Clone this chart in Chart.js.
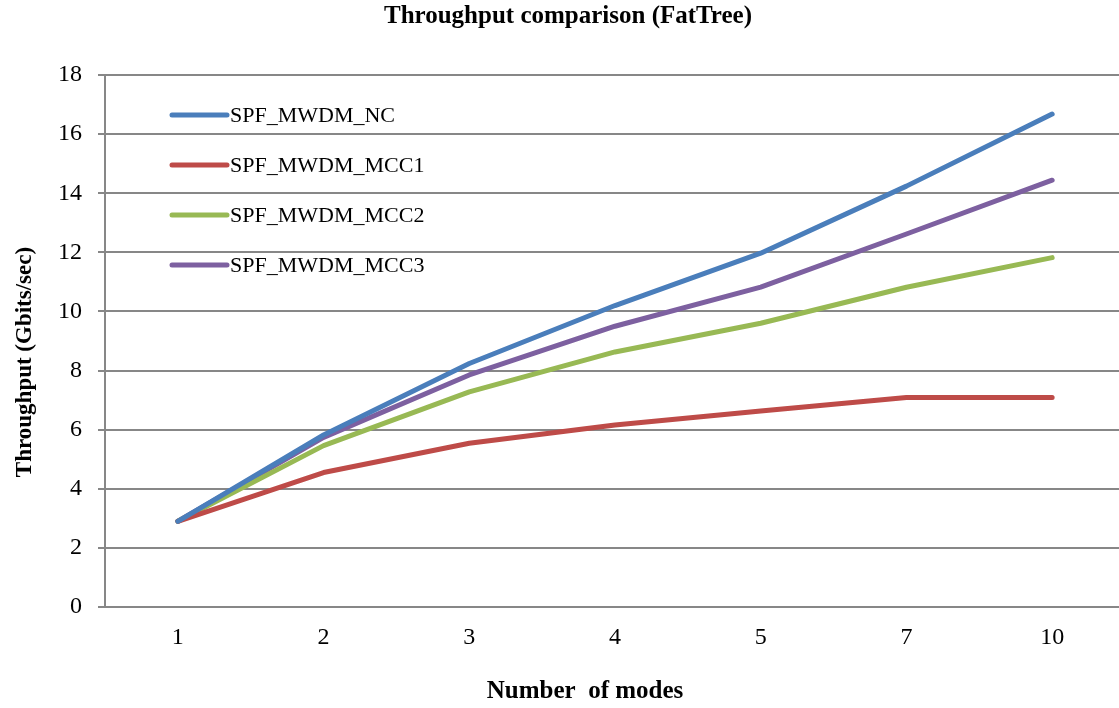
<!DOCTYPE html>
<html>
<head>
<meta charset="utf-8">
<script src="https://cdn.jsdelivr.net/npm/chart.js@4/dist/chart.umd.min.js"></script>
<style>
  html, body { margin: 0; padding: 0; background: #ffffff; overflow: hidden; }
  #wrap { width: 1119px; height: 708px; position: relative; overflow: hidden; }
  #c { display: block; }
</style>
</head>
<body>
<div id="wrap"><canvas id="c" width="1126" height="708"></canvas></div>
<script>
const chartTitle = 'Throughput comparison (FatTree)';
const xTitle = 'Number  of modes';
const yTitle = 'Throughput (Gbits/sec)';

const categories = ['1', '2', '3', '4', '5', '7', '10'];
const seriesNames = ['SPF_MWDM_NC', 'SPF_MWDM_MCC1', 'SPF_MWDM_MCC2', 'SPF_MWDM_MCC3'];
const seriesColors = ['#4a7ebb', '#be4b48', '#98b954', '#7d60a0'];
const nc   = [2.9, 5.82, 8.24, 10.2, 11.97, 14.24, 16.68];
const mcc1 = [2.9, 4.55, 5.54, 6.16, 6.63, 7.09, 7.09];
const mcc2 = [2.9, 5.46, 7.28, 8.63, 9.6, 10.82, 11.82];
const mcc3 = [2.9, 5.74, 7.85, 9.5, 10.82, 12.62, 14.44];
const yMin = 0, yMax = 18, yStep = 2;

const seriesValues = [nc, mcc1, mcc2, mcc3];
const SERIF = '"Liberation Serif", "Times New Roman", serif';

const datasets = seriesValues.map((vals, i) => ({
  label: seriesNames[i],
  data: vals,
  borderColor: seriesColors[i],
  backgroundColor: seriesColors[i],
  borderWidth: 5,
  pointRadius: 0,
  pointHoverRadius: 0,
  tension: 0,
  fill: false,
  borderCapStyle: 'round',
  borderJoinStyle: 'round'
}));

const textPlugin = {
  id: 'textPlugin',
  afterDraw(chart) {
    const ctx = chart.ctx;
    const area = chart.chartArea;
    ctx.save();
    ctx.fillStyle = '#000000';
    ctx.textAlign = 'center';
    ctx.textBaseline = 'middle';
    ctx.font = 'bold 25px ' + SERIF;
    ctx.fillText(chartTitle, 568, 17);
    ctx.fillText(xTitle, 585, 692);
    ctx.font = 'bold 23px ' + SERIF;
    ctx.translate(25, 362);
    ctx.rotate(-Math.PI / 2);
    ctx.fillText(yTitle, 0, 0);
    ctx.restore();

    // legend inside plot area
    ctx.save();
    ctx.font = '22px ' + SERIF;
    ctx.textAlign = 'left';
    ctx.textBaseline = 'middle';
    chart.data.datasets.forEach((ds, i) => {
      const y = area.top + 40 + i * 50;
      const x0 = area.left + 67;
      ctx.strokeStyle = ds.borderColor;
      ctx.lineWidth = 5;
      ctx.lineCap = 'round';
      ctx.beginPath();
      ctx.moveTo(x0, y);
      ctx.lineTo(x0 + 55, y);
      ctx.stroke();
      ctx.fillStyle = '#000000';
      ctx.fillText(ds.label, x0 + 58, y + 1);
    });
    ctx.restore();
  }
};

new Chart(document.getElementById('c'), {
  type: 'line',
  data: { labels: categories, datasets },
  plugins: [textPlugin],
  options: {
    responsive: false,
    animation: false,
    events: [],
    layout: { padding: { left: 0, right: 1, top: 75, bottom: 0 } },
    plugins: {
      legend: { display: false },
      title: { display: false },
      tooltip: { enabled: false }
    },
    scales: {
      x: {
        type: 'category',
        offset: true,
        grid: { display: false, drawTicks: false, tickLength: 0 },
        border: { display: true, color: '#878787', width: 2 },
        ticks: { color: '#000000', font: { family: SERIF, size: 24 }, padding: 16, maxRotation: 0 },
        afterFit(scale) { scale.height = 101; }
      },
      y: {
        min: yMin,
        max: yMax,
        ticks: { stepSize: yStep, color: '#000000', font: { family: SERIF, size: 24 }, padding: 16 },
        grid: { color: '#878787', lineWidth: 2, tickLength: 7, drawTicks: true },
        border: { display: true, color: '#878787', width: 2 },
        afterFit(scale) { scale.width = 105; }
      }
    }
  }
});
</script>
</body>
</html>
